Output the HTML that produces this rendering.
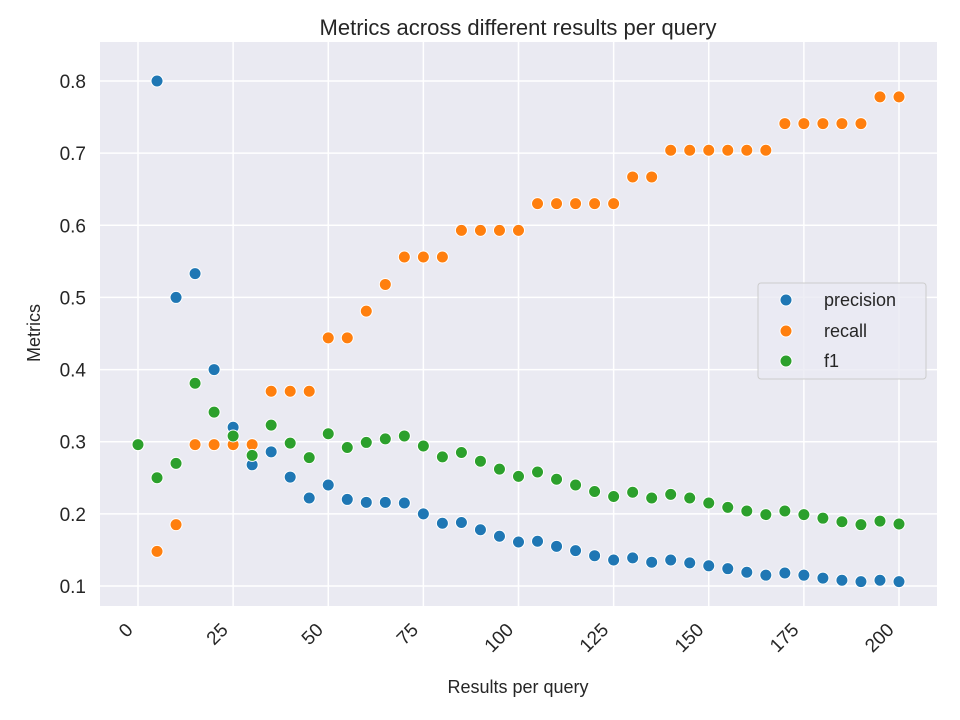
<!DOCTYPE html>
<html><head><meta charset="utf-8"><style>
body{margin:0;background:#fff;}
svg{display:block;font-family:"Liberation Sans","DejaVu Sans",sans-serif;}
</style></head><body>
<svg id="chart" width="960" height="720" viewBox="0 0 960 720">
<rect x="100" y="42" width="837" height="564" fill="#eaeaf2"/>
<g id="grid"></g><g id="marks"></g><g id="axes"></g>
<text x="518" y="43" text-anchor="middle" font-size="22" fill="#262626" dy="-8">Metrics across different results per query</text>
<text x="518" y="693" text-anchor="middle" font-size="18" fill="#262626">Results per query</text>
<text transform="translate(40,333) rotate(-90)" text-anchor="middle" font-size="18" fill="#262626">Metrics</text>
<g>
<rect x="758" y="283" width="168" height="96" rx="3" fill="#eaeaf2" stroke="#cccccc" fill-opacity="0.8"/>
<g><circle cx="786" cy="300" r="6" fill="#1f77b4" stroke="#fff" stroke-width="1"/><text x="824" y="306" font-size="18" fill="#262626">precision</text></g>
<g><circle cx="786" cy="331" r="6" fill="#ff7f0e" stroke="#fff" stroke-width="1"/><text x="824" y="337" font-size="18" fill="#262626">recall</text></g>
<g><circle cx="786" cy="361" r="6" fill="#2ca02c" stroke="#fff" stroke-width="1"/><text x="824" y="367" font-size="18" fill="#262626">f1</text></g>
</g>
</svg>
<script>
const resultsPerQuery = [0,5,10,15,20,25,30,35,40,45,50,55,60,65,70,75,80,85,90,95,100,105,110,115,120,125,130,135,140,145,150,155,160,165,170,175,180,185,190,195,200];
const precision = [0.296,0.8,0.5,0.533,0.4,0.32,0.268,0.286,0.251,0.222,0.24,0.22,0.216,0.216,0.215,0.2,0.187,0.188,0.178,0.169,0.161,0.162,0.155,0.149,0.142,0.136,0.139,0.133,0.136,0.132,0.128,0.124,0.119,0.115,0.118,0.115,0.111,0.108,0.106,0.108,0.106];
const recall = [0.296,0.148,0.185,0.296,0.296,0.296,0.296,0.37,0.37,0.37,0.444,0.444,0.481,0.518,0.556,0.556,0.556,0.593,0.593,0.593,0.593,0.63,0.63,0.63,0.63,0.63,0.667,0.667,0.704,0.704,0.704,0.704,0.704,0.704,0.741,0.741,0.741,0.741,0.741,0.778,0.778];
const f1 = [0.296,0.25,0.27,0.381,0.341,0.308,0.281,0.323,0.298,0.278,0.311,0.292,0.299,0.304,0.308,0.294,0.279,0.285,0.273,0.262,0.252,0.258,0.248,0.24,0.231,0.224,0.23,0.222,0.227,0.222,0.215,0.209,0.204,0.199,0.204,0.199,0.194,0.189,0.185,0.19,0.186];
const xTicks = [0,25,50,75,100,125,150,175,200];
const yTicks = [0.1,0.2,0.3,0.4,0.5,0.6,0.7,0.8];
const yTickLabels = ["0.1","0.2","0.3","0.4","0.5","0.6","0.7","0.8"];

const NS="http://www.w3.org/2000/svg";
function X(v){return 138+(v-0)*(899-138)/200;}
function Y(v){return 586-(v-0.1)*(586-81)/0.7;}
function mk(tag,attrs,parent){const e=document.createElementNS(NS,tag);for(const k in attrs)e.setAttribute(k,attrs[k]);parent.appendChild(e);return e;}
const grid=document.getElementById('grid'),marks=document.getElementById('marks'),axes=document.getElementById('axes');
xTicks.forEach(t=>{
  const l=mk('line',{x1:X(t),x2:X(t),y1:42,y2:606,stroke:'#fff','stroke-width':1.5},grid);
  
  
  const tx=mk('text',{x:0,y:0,'font-size':19,fill:'#262626','text-anchor':'end',transform:`translate(${X(t)-4},${631}) rotate(-45)`},axes);
  tx.textContent=t;
  
  
});
yTicks.forEach((t,i)=>{
  const l=mk('line',{x1:100,x2:937,y1:Y(t),y2:Y(t),stroke:'#fff','stroke-width':1.5},grid);
  
  
  const tx=mk('text',{x:86,y:Y(t)+7,'font-size':19,fill:'#262626','text-anchor':'end'},axes);
  tx.textContent=yTickLabels[i];
  
  
});
[[precision,'#1f77b4','precision'],[recall,'#ff7f0e','recall'],[f1,'#2ca02c','f1']].forEach(([arr,c,n])=>{
  arr.forEach((v,i)=>{
    const p=mk('circle',{cx:X(resultsPerQuery[i]),cy:Y(v),r:6,fill:c,stroke:'#fff','stroke-width':1},marks);
    
    
  });
});
</script>
</body></html>
